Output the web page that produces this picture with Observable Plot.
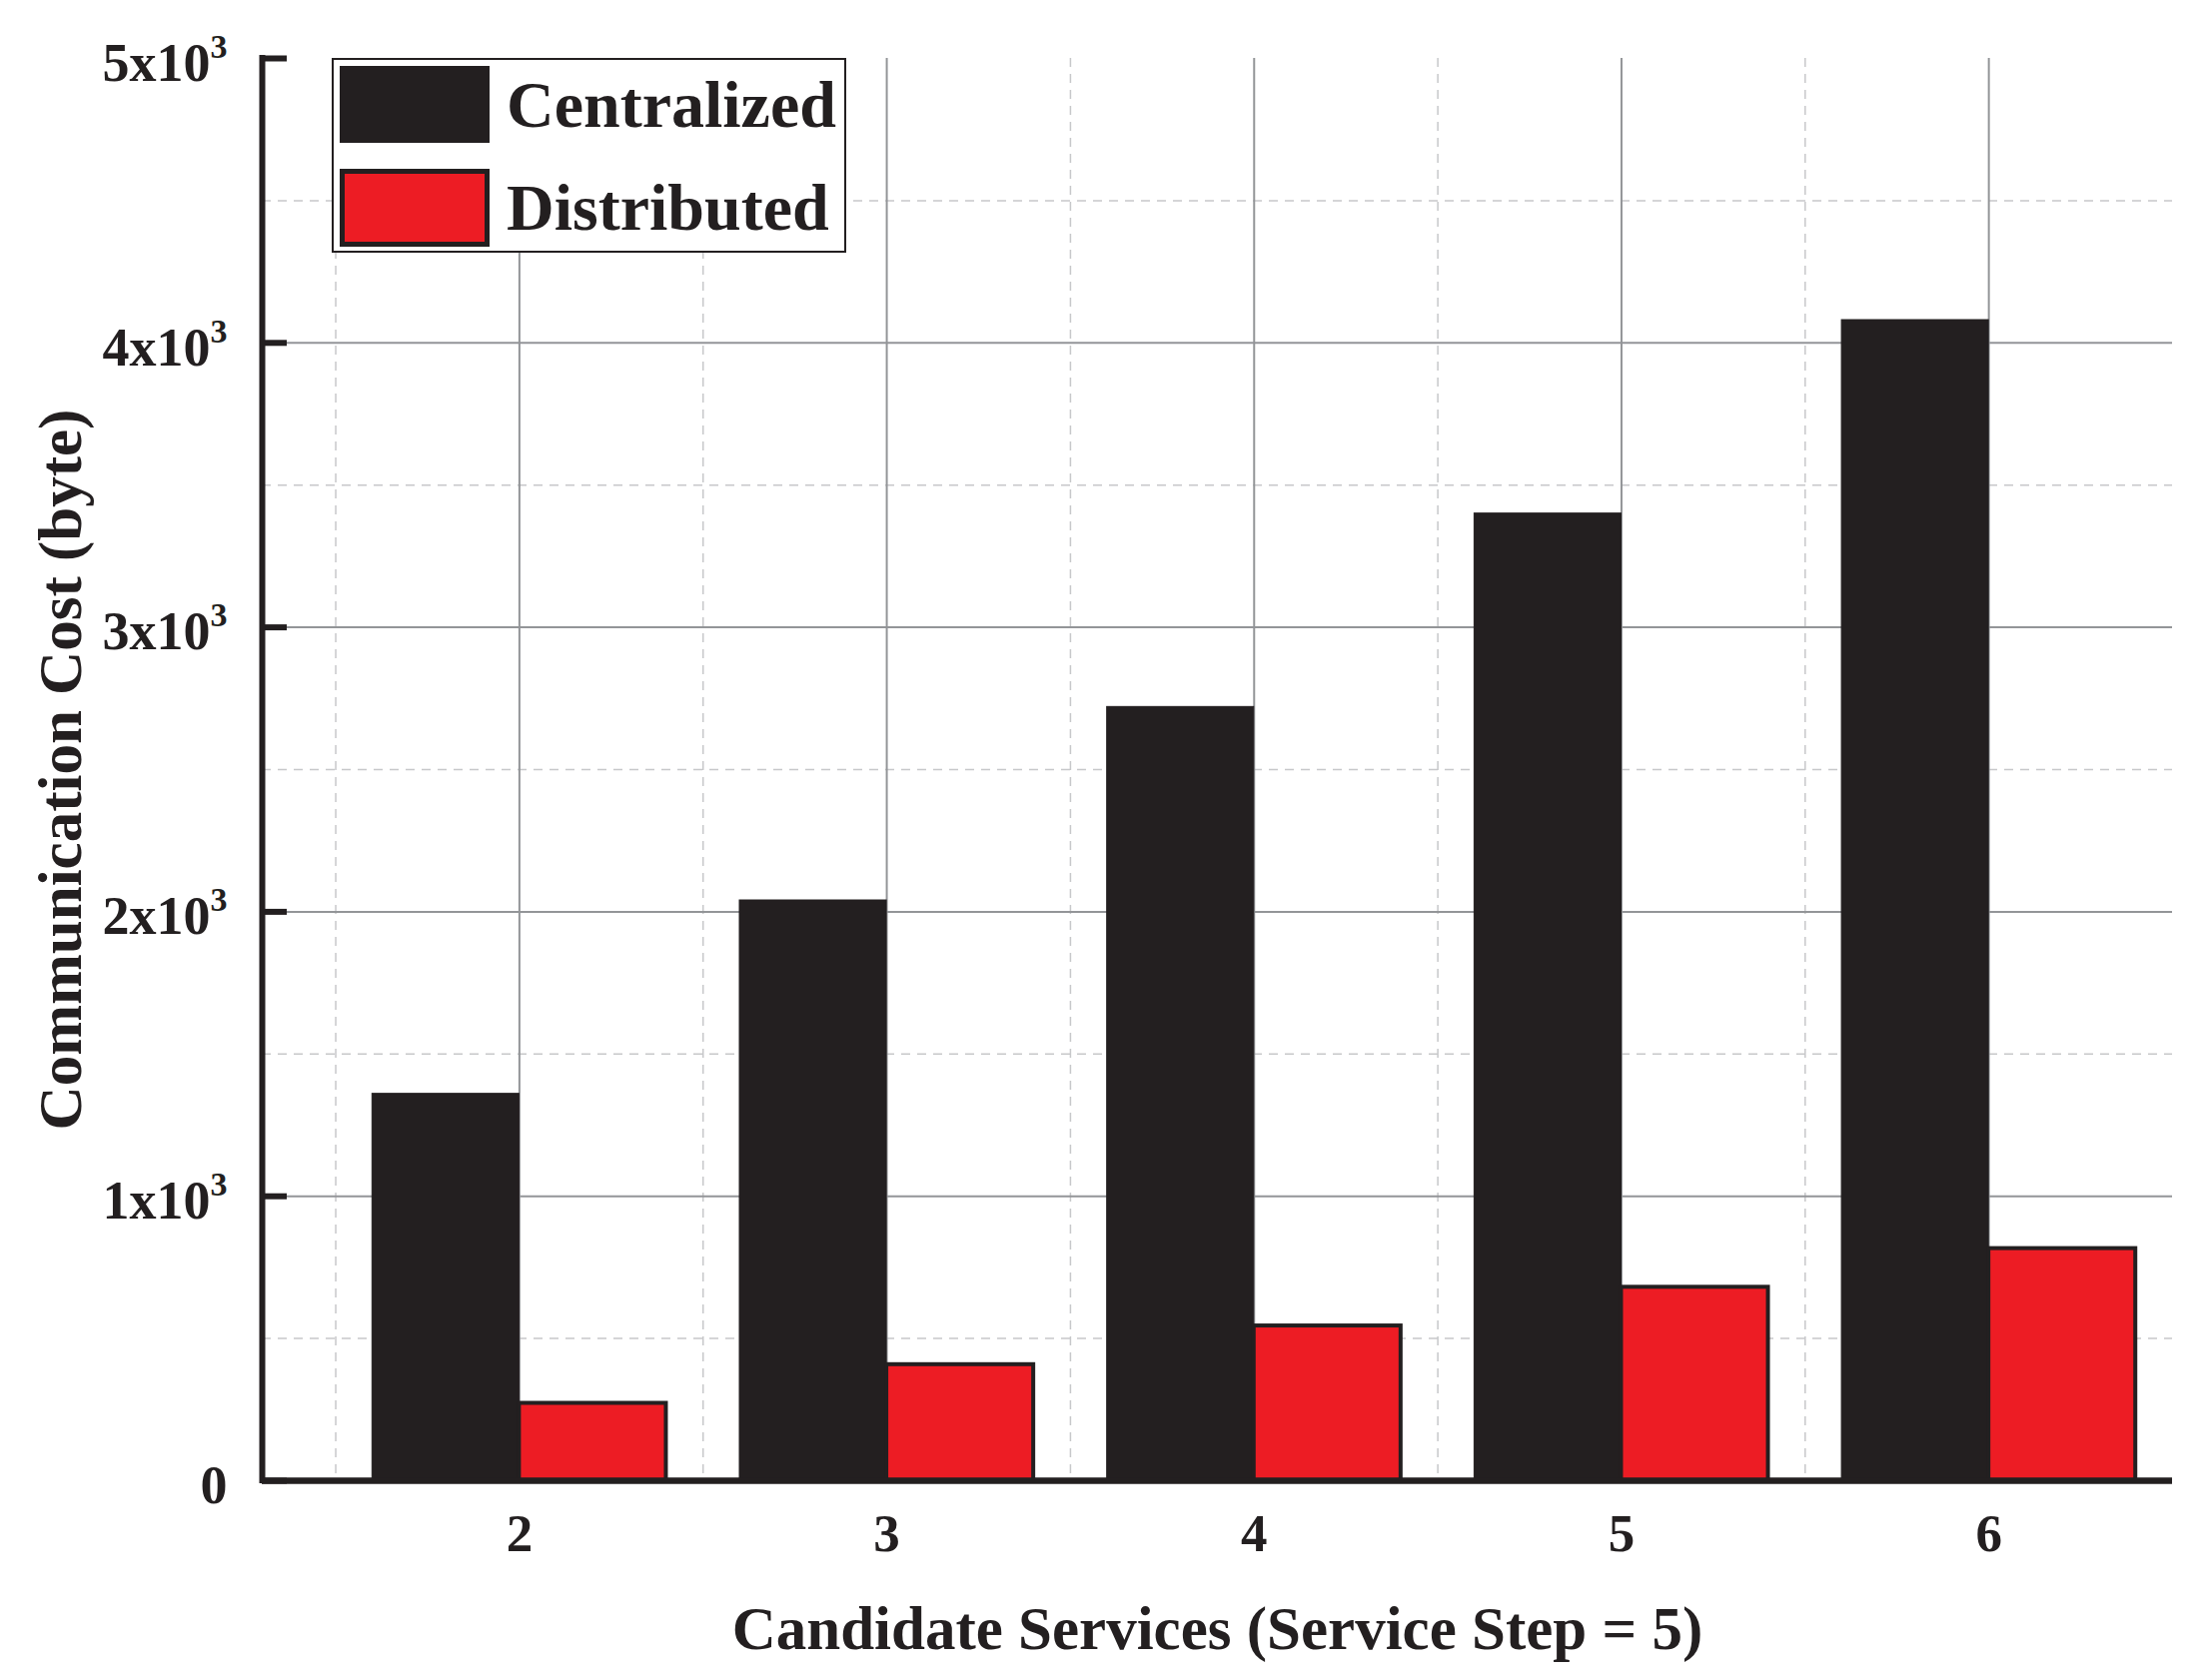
<!DOCTYPE html>
<html>
<head>
<meta charset="utf-8">
<script src="https://cdn.jsdelivr.net/npm/d3@7"></script>
<script src="https://cdn.jsdelivr.net/npm/@observablehq/plot@0.6"></script>
<style>
  html, body { margin: 0; padding: 0; background: #fff; }
  #wrap { position: relative; width: 2214px; height: 1682px; font-family: "Liberation Serif", "Times New Roman", serif; font-weight: bold; color: #231f20; }
  #legend { position: absolute; left: 332px; top: 58px; width: 511px; height: 191px; border: 2px solid #231f20; background: #fff; }
  .sw { position: absolute; left: 6px; width: 150px; box-sizing: border-box; }
  .lt { position: absolute; left: 173px; font-size: 66px; line-height: 1; white-space: nowrap; }
</style>
</head>
<body>
<div id="wrap">
  <div id="chart"></div>
  <div id="legend"></div>
</div>
<script>
// ---- data ----
const services = [2, 3, 4, 5, 6];
const centralized = [1360, 2040, 2720, 3400, 4080];
const distributed = [272, 408, 544, 680, 816];
const seriesNames = ["Centralized", "Distributed"];
const seriesColors = ["#231f20", "#ed1c24"];
const xTickLabels = ["2", "3", "4", "5", "6"];
const yTicks = [0, 1000, 2000, 3000, 4000, 5000];
const yTickLabels = ["0", "1x10^3", "2x10^3", "3x10^3", "4x10^3", "5x10^3"];
const xTitle = "Candidate Services (Service Step = 5)";
const yTitle = "Communication Cost (byte)";

// ---- derived ----
const ink = "#231f20";
const barW = 0.4;
const xDomain = [1.3, 6.5];
const yDomain = [0, 5000];
const rows = services.flatMap((s, i) => [
  {series: seriesNames[0], x1: s - barW, x2: s, v: centralized[i]},
  {series: seriesNames[1], x1: s, x2: s + barW, v: distributed[i]}
]);
const majorX = services;
const minorX = services.map(s => s - 0.5);
const majorY = yTicks.filter(v => v > yDomain[0] && v < yDomain[1]);
const minorY = yTicks.slice(0, -1).map((v, i) => (v + yTicks[i + 1]) / 2);

const chart = Plot.plot({
  width: 2214,
  height: 1682,
  marginLeft: 262,
  marginRight: 40,
  marginTop: 58,
  marginBottom: 200,
  style: {fontFamily: "Liberation Serif, 'Times New Roman', serif", fontWeight: "bold", color: ink, background: "#fff", overflow: "visible"},
  x: {type: "linear", domain: xDomain},
  y: {type: "linear", domain: yDomain},
  color: {domain: seriesNames, range: seriesColors},
  marks: [
    Plot.gridX(minorX, {stroke: "#c7c8ca", strokeOpacity: 1, strokeWidth: 1.5, strokeDasharray: "9,7"}),
    Plot.gridY(minorY, {stroke: "#c7c8ca", strokeOpacity: 1, strokeWidth: 1.5, strokeDasharray: "9,7"}),
    Plot.gridX(majorX, {stroke: "#939598", strokeOpacity: 1, strokeWidth: 2}),
    Plot.gridY(majorY, {stroke: "#939598", strokeOpacity: 1, strokeWidth: 2}),
    Plot.rect(rows.filter(d => d.series === seriesNames[0]), {x1: "x1", x2: "x2", y1: 0, y2: "v", fill: "series", stroke: ink, strokeWidth: 1}),
    Plot.rect(rows.filter(d => d.series === seriesNames[1]), {x1: "x1", x2: "x2", y1: 0, y2: "v", fill: "series", stroke: ink, strokeWidth: 4}),
    // inward tick marks on y axis
    Plot.axisY({ticks: yTicks, tickSize: 25, dx: 25, strokeWidth: 6, stroke: ink, tickFormat: () => "", label: null}),
    // y tick labels
    Plot.axisY({ticks: yTicks, tickSize: 0, tickPadding: 35, dy: 5, fontSize: 54, fill: ink,
      tickFormat: d => yTickLabels[yTicks.indexOf(d)], label: null}),
    // x tick labels
    Plot.axisX({ticks: services, tickSize: 0, tickPadding: 33, fontSize: 53, fill: ink,
      tickFormat: d => xTickLabels[services.indexOf(d)], label: null}),
    // axis lines
    Plot.ruleX([xDomain[0]], {stroke: ink, strokeWidth: 6, strokeLinecap: "square"}),
    Plot.ruleY([yDomain[0]], {stroke: ink, strokeWidth: 6.5}),
    // titles
    Plot.text([yTitle], {text: d => d, frameAnchor: "left", textAnchor: "middle", dx: -182, rotate: -90, lineAnchor: "bottom", fontSize: 61, fill: ink}),
    Plot.text([xTitle], {text: d => d, frameAnchor: "bottom", textAnchor: "middle", dy: 168, dx: 0, lineAnchor: "bottom", fontSize: 61, fill: ink})
  ]
});

// superscripts in y tick labels
chart.querySelectorAll('[aria-label="y-axis tick label"] text').forEach(t => {
  const s = t.textContent;
  if (!s.includes("^")) return;
  const [base, exp] = s.split("^");
  t.textContent = "";
  const ns = "http://www.w3.org/2000/svg";
  const a = document.createElementNS(ns, "tspan");
  a.textContent = base;
  const b = document.createElementNS(ns, "tspan");
  b.textContent = exp;
  b.setAttribute("dy", "-23");
  b.setAttribute("font-size", "34");
  t.appendChild(a);
  t.appendChild(b);
});

document.getElementById("chart").appendChild(chart);

// legend
const legend = document.getElementById("legend");
const swTops = [6, 109], swHeights = [77, 78], txtTops = [12, 115];
seriesNames.forEach((name, i) => {
  const sw = document.createElement("div");
  sw.className = "sw";
  sw.style.top = swTops[i] + "px";
  sw.style.height = swHeights[i] + "px";
  sw.style.background = seriesColors[i];
  if (i === 1) sw.style.border = "5px solid " + ink;
  legend.appendChild(sw);
  const tx = document.createElement("div");
  tx.className = "lt";
  tx.style.top = txtTops[i] + "px";
  tx.textContent = name;
  legend.appendChild(tx);
});
</script>
</body>
</html>
